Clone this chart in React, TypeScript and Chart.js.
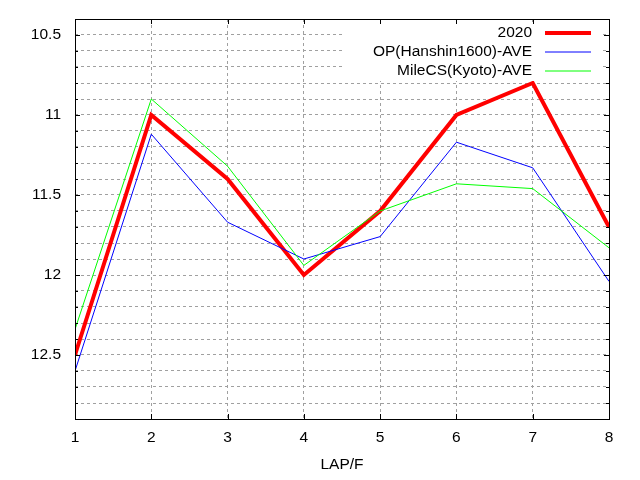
import React, { useEffect, useRef } from "react";
import { Chart, registerables } from "chart.js";

Chart.register(...registerables);

// laps on the x axis
const laps = [1, 2, 3, 4, 5, 6, 7, 8];

// seconds per 200m
const lap2020 = [12.5, 11.0, 11.4, 12.0, 11.6, 11.0, 10.8, 11.7];
const opHanshin = [12.6, 11.12, 11.67, 11.9, 11.76, 11.17, 11.33, 12.04];
const mileKyoto = [12.34, 10.9, 11.32, 11.94, 11.6, 11.43, 11.46, 11.83];

const seriesNames = ["2020", "OP(Hanshin1600)-AVE", "MileCS(Kyoto)-AVE"];
const seriesColors = ["#ff0000", "#0000ff", "#00ff00"];
const seriesWidths = [4, 1, 1];

const yMin = 10.4;
const yMax = 12.9;

const FONT = "'Liberation Sans', Arial, sans-serif";
const FONT_SIZE = 15.5;

const isMajor = (v: number) => Math.abs(v * 2 - Math.round(v * 2)) < 1e-6;

// gnuplot style frame: black border with inward tics on all four sides
const framePlugin = {
    id: "frame",
    afterDatasetsDraw(chart: Chart) {
        const { ctx, chartArea: a, scales } = chart;
        ctx.save();

        // key box, right-aligned labels with sample line to the right
        ctx.fillStyle = "#ffffff";
        ctx.fillRect(344, a.top + 3, 257, 59);
        ctx.font = `${FONT_SIZE}px ${FONT}`;
        ctx.textAlign = "right";
        ctx.textBaseline = "middle";
        seriesNames.forEach((name, i) => {
            const y = a.top + 14 + i * 19;
            ctx.fillStyle = "#000000";
            ctx.fillText(name, 532, y);
            ctx.strokeStyle = seriesColors[i];
            ctx.lineWidth = seriesWidths[i];
            ctx.beginPath();
            ctx.moveTo(545, y);
            ctx.lineTo(591, y);
            ctx.stroke();
        });

        ctx.strokeStyle = "#000000";
        ctx.lineWidth = 1;
        ctx.beginPath();
        const ys = scales.y;
        ys.ticks.forEach((t) => {
            const y = Math.round(ys.getPixelForValue(t.value)) + 0.5;
            const len = isMajor(t.value) ? 5 : 3;
            ctx.moveTo(a.left, y);
            ctx.lineTo(a.left + len, y);
            ctx.moveTo(a.right, y);
            ctx.lineTo(a.right - len, y);
        });
        const xs = scales.x;
        xs.ticks.forEach((t) => {
            const x = Math.round(xs.getPixelForValue(t.value)) + 0.5;
            ctx.moveTo(x, a.bottom);
            ctx.lineTo(x, a.bottom - 5);
            ctx.moveTo(x, a.top);
            ctx.lineTo(x, a.top + 5);
        });
        ctx.stroke();

        ctx.strokeRect(
            Math.round(a.left) + 0.5,
            Math.round(a.top) + 0.5,
            Math.round(a.right - a.left),
            Math.round(a.bottom - a.top)
        );
        ctx.restore();
    },
};

export default function App() {
    const canvasRef = useRef<HTMLCanvasElement | null>(null);
    const chartRef = useRef<Chart | null>(null);

    useEffect(() => {
        if (!canvasRef.current) return;
        const ctx = canvasRef.current.getContext("2d");
        if (!ctx) return;

        if (chartRef.current) {
            chartRef.current.destroy();
        }

        const values = [lap2020, opHanshin, mileKyoto];

        chartRef.current = new Chart(ctx, {
            type: "line",
            data: {
                datasets: values.map((vals, i) => ({
                    label: seriesNames[i],
                    data: laps.map((x, j) => ({ x, y: vals[j] })),
                    borderColor: seriesColors[i],
                    backgroundColor: seriesColors[i],
                    borderWidth: seriesWidths[i],
                    pointRadius: 0,
                    tension: 0,
                    fill: false,
                    order: 3 - i,
                })),
            },
            options: {
                animation: false,
                responsive: true,
                maintainAspectRatio: false,
                layout: {
                    padding: { left: 0, top: 19, right: 31, bottom: 0 },
                },
                plugins: {
                    legend: { display: false },
                    tooltip: { enabled: false },
                },
                scales: {
                    x: {
                        type: "linear",
                        min: 1,
                        max: 8,
                        afterFit: (s) => {
                            s.height = 61;
                            s.paddingLeft = 0;
                            s.paddingRight = 0;
                        },
                        ticks: {
                            stepSize: 1,
                            padding: 9,
                            color: "#000000",
                            font: { family: FONT, size: FONT_SIZE },
                        },
                        grid: {
                            color: "#a0a0a0",
                            drawTicks: false,
                        },
                        border: { display: false, dash: [3, 3] },
                        title: {
                            display: true,
                            text: "LAP/F",
                            color: "#000000",
                            font: { family: FONT, size: FONT_SIZE },
                            padding: { top: 0, bottom: 6 },
                        },
                    },
                    y: {
                        type: "linear",
                        reverse: true,
                        min: yMin,
                        max: yMax,
                        afterFit: (s) => {
                            s.width = 75;
                            s.paddingTop = 0;
                            s.paddingBottom = 0;
                        },
                        ticks: {
                            stepSize: 0.1,
                            autoSkip: false,
                            padding: 14,
                            color: "#000000",
                            font: { family: FONT, size: FONT_SIZE },
                            callback: (v) => {
                                const n = Number(v);
                                return isMajor(n) ? String(Math.round(n * 10) / 10) : "";
                            },
                        },
                        grid: {
                            color: "#a0a0a0",
                            drawTicks: false,
                        },
                        border: { display: false, dash: [3, 3] },
                    },
                },
            },
            plugins: [framePlugin],
        });

        return () => {
            chartRef.current?.destroy();
        };
    }, []);

    return (
        <div style={{ position: "absolute", left: 0, top: 0, width: 640, height: 480, background: "#ffffff" }}>
            <canvas ref={canvasRef}></canvas>
        </div>
    );
}
